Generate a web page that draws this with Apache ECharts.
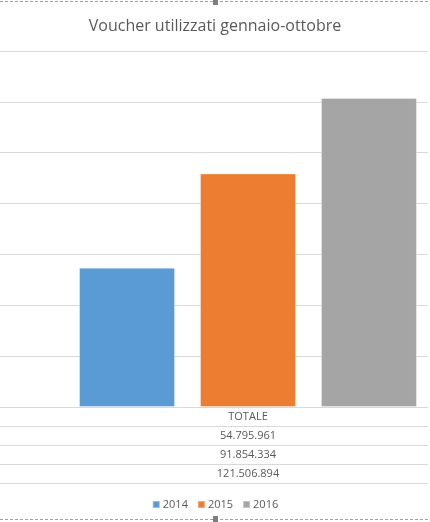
<!DOCTYPE html>
<html>
<head>
<meta charset="utf-8">
<script src="https://cdn.jsdelivr.net/npm/echarts@6/dist/echarts.min.js"></script>
<style>
  html, body { margin: 0; padding: 0; background: #fff; }
  #chart { width: 430px; height: 522px; }
</style>
</head>
<body>
<div id="chart"></div>
<script>
// dati
const categories = ['TOTALE'];
const years = ['2014', '2015', '2016'];
const values = [54795961, 91854334, 121506894];
const colors = ['#5b9bd5', '#ed7d31', '#a5a5a5'];

const textColor = '#595959';
const lineColor = '#d9d9d9';

// formato italiano con punti per le migliaia
function fmt(n) {
  return String(n).replace(/\B(?=(\d{3})+(?!\d))/g, '.');
}

const chart = echarts.init(document.getElementById('chart'));

// tabella dati sotto l'asse (riga intestazione + una riga per anno)
const rowH = 19;
const baseY = 407;
const tableRows = [categories[0]].concat(values.map(fmt));
const tableGraphics = [];
tableRows.forEach((txt, i) => {
  tableGraphics.push({
    type: 'text',
    x: 248,
    y: baseY + rowH * i + rowH / 2,
    style: {
      text: txt,
      fill: textColor,
      font: '11px "Open Sans", sans-serif',
      textAlign: 'center',
      textVerticalAlign: 'middle'
    }
  });
  tableGraphics.push({
    type: 'line',
    shape: { x1: 0, y1: baseY + rowH * (i + 1) + 0.5, x2: 428, y2: baseY + rowH * (i + 1) + 0.5 },
    style: { stroke: lineColor, lineWidth: 1 }
  });
});

// bordo tratteggiato della selezione e maniglie
const frame = [
  { type: 'line', shape: { x1: 0, y1: 1.5, x2: 430, y2: 1.5 }, style: { stroke: '#a0a0a0', lineDash: [3, 2], lineWidth: 1 } },
  { type: 'line', shape: { x1: 0, y1: 519.5, x2: 430, y2: 519.5 }, style: { stroke: '#a0a0a0', lineDash: [3, 2], lineWidth: 1 } },
  { type: 'rect', shape: { x: 213, y: 0, width: 5, height: 5 }, style: { fill: '#7f7f7f' } },
  { type: 'rect', shape: { x: 213, y: 516, width: 5, height: 6 }, style: { fill: '#7f7f7f' } }
];

const option = {
  animation: false,
  title: {
    text: 'Voucher utilizzati gennaio-ottobre',
    left: 'center',
    top: 13,
    textStyle: {
      color: textColor,
      fontSize: 16,
      fontWeight: 'normal',
      fontFamily: '"Open Sans", sans-serif'
    }
  },
  legend: {
    data: years,
    left: 'center',
    top: 494,
    icon: 'rect',
    itemWidth: 7,
    itemHeight: 7,
    itemGap: 9,
    textStyle: { color: textColor, fontSize: 11, padding: [0, 0, 0, -2], fontFamily: '"Open Sans", sans-serif' }
  },
  grid: [
    { left: 0, right: 2, top: 51, bottom: 115 },
    { left: 68, right: 2, top: 51, bottom: 115 }
  ],
  xAxis: [
    {
      gridIndex: 0, type: 'category', data: categories,
      axisLine: { show: true, lineStyle: { color: lineColor } },
      axisTick: { show: false }, axisLabel: { show: false }
    },
    {
      gridIndex: 1, type: 'category', data: categories,
      axisLine: { show: false }, axisTick: { show: false }, axisLabel: { show: false }
    }
  ],
  yAxis: [
    {
      gridIndex: 0, type: 'value', min: 0, max: 140000000, interval: 20000000,
      axisLabel: { show: false }, axisLine: { show: false }, axisTick: { show: false },
      splitLine: { lineStyle: { color: lineColor } }
    },
    {
      gridIndex: 1, type: 'value', min: 0, max: 140000000, interval: 20000000,
      axisLabel: { show: false }, axisLine: { show: false }, axisTick: { show: false },
      splitLine: { show: false }
    }
  ],
  series: years.map((y, i) => ({
    name: y,
    type: 'bar',
    xAxisIndex: 1,
    yAxisIndex: 1,
    data: [values[i]],
    barWidth: 96,
    barGap: '26%',
    itemStyle: { color: colors[i], borderColor: 'rgba(255,255,255,0.35)', borderWidth: 1 }
  })),
  graphic: tableGraphics.concat(frame)
};

chart.setOption(option);
</script>
</body>
</html>
